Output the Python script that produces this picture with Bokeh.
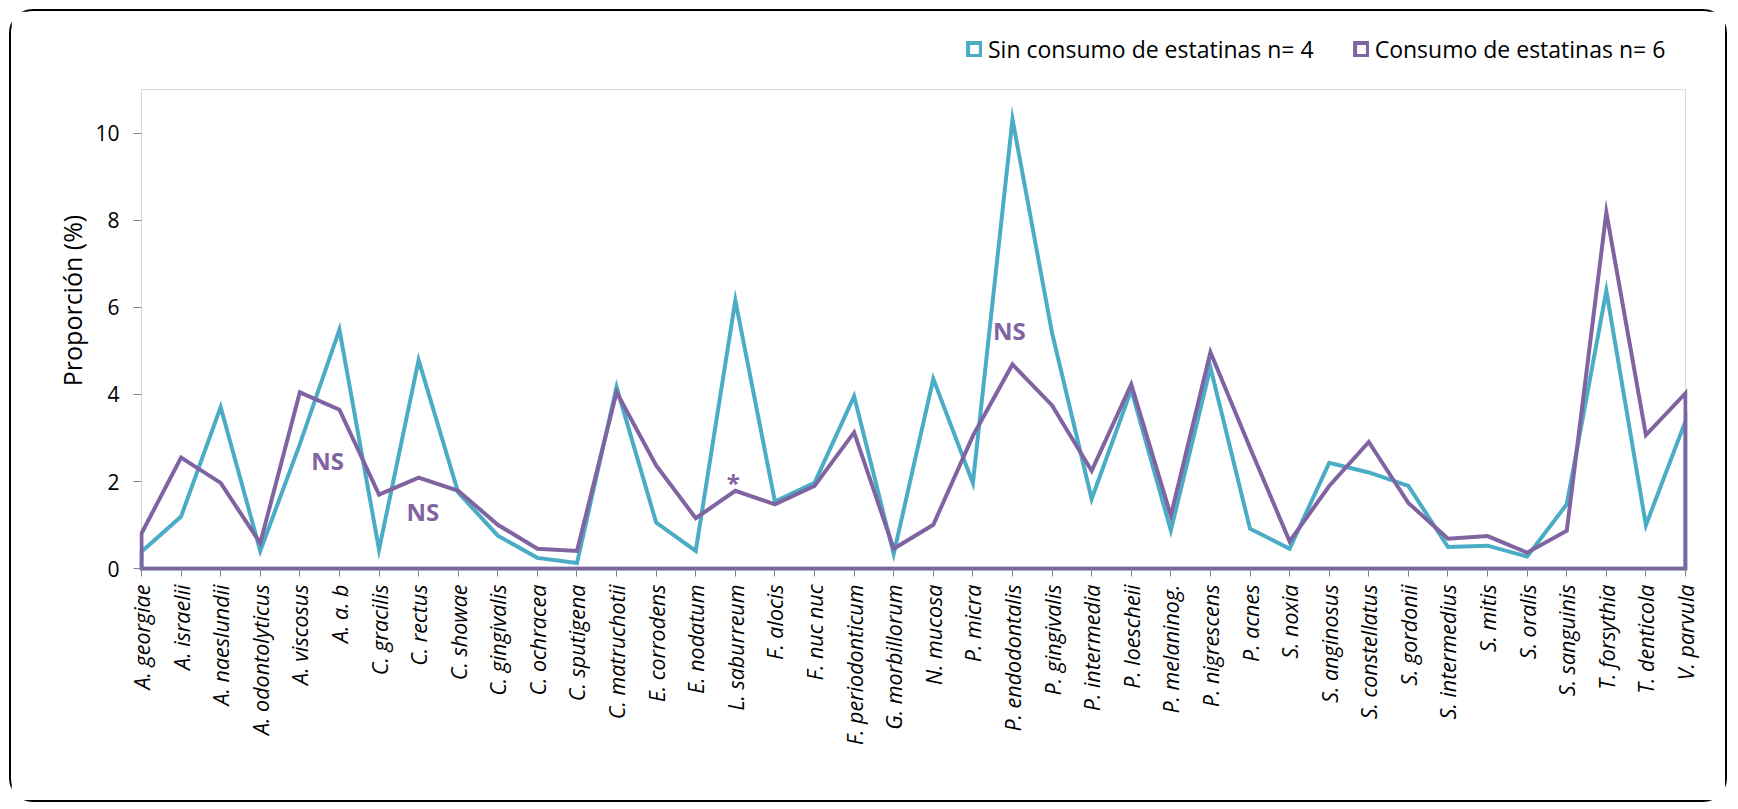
import math
from bokeh.plotting import figure
from bokeh.models import (Range1d, FixedTicker, Label, Legend, LegendItem,
                          BoxAnnotation, Title)
from bokeh.embed import file_html
from bokeh.resources import INLINE

categories = [
    "A. georgiae", "A. israelii", "A. naeslundii", "A. odontolyticus", "A. viscosus",
    "A. a. b", "C. gracilis", "C. rectus", "C. showae", "C. gingivalis",
    "C. ochracea", "C. sputigena", "C. matruchotii", "E. corrodens", "E. nodatum",
    "L. saburreum", "F. alocis", "F. nuc nuc", "F. periodonticum", "G. morbillorum",
    "N. mucosa", "P. micra", "P. endodontalis", "P. gingivalis", "P. intermedia",
    "P. loescheii", "P. melaninog.", "P. nigrescens", "P. acnes", "S. noxia",
    "S. anginosus", "S. constellatus", "S. gordonii", "S. intermedius", "S. mitis",
    "S. oralis", "S. sanguinis", "T. forsythia", "T. denticola", "V. parvula",
]
sin_estatinas = [
    0.39, 1.20, 3.71, 0.41, 2.86, 5.49, 0.44, 4.79, 1.75, 0.76,
    0.25, 0.13, 4.17, 1.06, 0.41, 6.16, 1.54, 1.97, 3.96, 0.34,
    4.36, 1.97, 10.32, 5.41, 1.60, 4.11, 0.88, 4.62, 0.92, 0.46,
    2.43, 2.21, 1.90, 0.50, 0.53, 0.28, 1.48, 6.38, 1.00, 3.39,
]
con_estatinas = [
    0.81, 2.55, 1.97, 0.59, 4.05, 3.65, 1.70, 2.09, 1.79, 1.01,
    0.46, 0.41, 4.05, 2.37, 1.16, 1.79, 1.48, 1.90, 3.13, 0.46,
    1.01, 3.05, 4.69, 3.75, 2.25, 4.23, 1.22, 4.97, 2.78, 0.63,
    1.90, 2.91, 1.51, 0.69, 0.75, 0.37, 0.87, 8.18, 3.07, 4.03,
]
y_ticks = [0, 2, 4, 6, 8, 10]
y_max = 11
y_label = "Proporción (%)"
label_sin = "Sin consumo de estatinas n= 4"
label_con = "Consumo de estatinas n= 6"
annotations = [  # (x position in category index, y value, text)
    (4.7, 2.49, "NS"),
    (7.11, 1.32, "NS"),
    (14.95, 1.98, "*"),
    (21.92, 5.46, "NS"),
]

CYAN = "#4BACC6"
PURPLE = "#8064A2"
GRAY = "#868686"
FONT = "Open Sans"

n = len(categories)
idx = list(range(n))

# frame extends above the plot area so that the legend can live inside it
p = figure(width=1718, height=793, output_backend="svg", toolbar_location=None,
           x_range=Range1d(-0.05, n - 1 + 0.05), y_range=Range1d(-0.04, 12.355),
           min_border_left=128, min_border_right=42, min_border_top=19,
           min_border_bottom=234)
p.styles = {"border": "2px solid #000000", "border-radius": "24px",
            "margin": "9px 0px 0px 9px"}
p.background_fill_color = "white"
p.border_fill_color = "white"
p.outline_line_color = None
p.xgrid.visible = False
p.ygrid.visible = False

# plot-area border (0..11 on y, first..last category on x)
p.add_layout(BoxAnnotation(left=0, right=n - 1, bottom=0, top=y_max,
                           fill_alpha=0, fill_color=None, line_color=GRAY,
                           line_width=1, level="underlay"))

# closed outline "area" shapes (Excel area chart without fill)
px = idx + [n - 1, 0]
r_sin = p.patch(px, sin_estatinas + [0, 0], fill_color=None, line_color=CYAN,
                line_width=4, line_join="miter")
r_con = p.patch(px, con_estatinas + [0, 0], fill_color=None, line_color=PURPLE,
                line_width=4, line_join="miter")

# axes
p.xaxis.ticker = FixedTicker(ticks=idx)
p.xaxis.major_label_overrides = {i: c for i, c in enumerate(categories)}
p.xaxis.major_label_orientation = math.pi / 2
p.xaxis.major_label_text_font = FONT
p.xaxis.major_label_text_font_style = "italic"
p.xaxis.major_label_text_font_size = "21.5px"
p.xaxis.major_label_text_color = "#000000"
p.xaxis.major_label_standoff = 8
p.xaxis.major_tick_in = 2
p.xaxis.major_tick_out = 6
p.xaxis.minor_tick_line_color = None
p.xaxis.axis_line_color = None
p.xaxis.major_tick_line_color = GRAY

p.yaxis.ticker = FixedTicker(ticks=y_ticks)
p.yaxis.major_label_text_font = FONT
p.yaxis.major_label_text_font_size = "21px"
p.yaxis.major_label_text_color = "#000000"
p.yaxis.major_label_standoff = 14
p.yaxis.major_tick_in = 2
p.yaxis.major_tick_out = 6
p.yaxis.minor_tick_line_color = None
p.yaxis.axis_line_color = None
p.yaxis.major_tick_line_color = GRAY

# y-axis title, centred on the 0..11 plot area rather than on the whole frame
p.add_layout(Title(text=y_label, align="center", offset=-28, standoff=7,
                   text_font=FONT, text_font_style="normal",
                   text_font_size="25px", text_color="#000000"), "left")

for (ax, ay, t) in annotations:
    p.add_layout(Label(x=ax, y=ay, text=t, text_font=FONT, text_font_style="bold",
                       text_font_size="24px", text_color=PURPLE,
                       text_align="center", text_baseline="middle"))

legend = Legend(items=[LegendItem(label=label_sin, renderers=[r_sin]),
                       LegendItem(label=label_con, renderers=[r_con])],
                orientation="horizontal", location=(827, 505),
                label_text_font=FONT, label_text_font_size="23px",
                label_text_color="#000000",
                glyph_width=16, glyph_height=16, label_standoff=6, spacing=39,
                padding=0, margin=0, border_line_color=None,
                background_fill_alpha=0)
p.add_layout(legend, "center")

open("out.html", "w").write(file_html(p, INLINE))
